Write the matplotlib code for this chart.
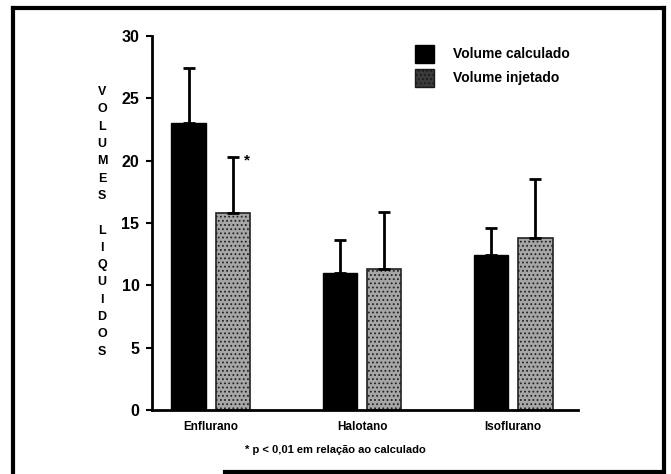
import numpy as np
import matplotlib.pyplot as plt
from matplotlib.lines import Line2D
from matplotlib.patches import Patch

categorias = ['Enflurano', 'Halotano', 'Isoflurano']
calculado = [23.0, 11.0, 12.4]
calculado_dp = [4.4, 2.6, 2.2]
injetado = [15.8, 11.3, 13.8]
injetado_dp = [4.5, 4.6, 4.7]

plt.rcParams['font.family'] = ['Liberation Sans', 'DejaVu Sans']
plt.rcParams['font.weight'] = 'bold'
plt.rcParams['hatch.linewidth'] = 0.8

fig = plt.figure(figsize=(6.71, 4.74), dpi=100)
ax = fig.add_axes([0.2265, 0.135, 0.635, 0.789])

x = np.arange(len(categorias))
w = 0.23
d = 0.146

ax.bar(x - d, calculado, w, color='black', edgecolor='black')
ax.bar(x + d, injetado, w, color='#a6a6a6', edgecolor='#222222', hatch='....',
       linewidth=1.2)

# barras de erro só para cima
ax.errorbar(x - d, calculado, yerr=[np.zeros(3), calculado_dp], fmt='none',
            ecolor='black', elinewidth=2, capsize=4.5, capthick=2)
ax.errorbar(x + d, injetado, yerr=[np.zeros(3), injetado_dp], fmt='none',
            ecolor='black', elinewidth=2, capsize=4.5, capthick=2)

ax.text(0 + d + 0.09, injetado[0] + injetado_dp[0] - 0.3, '*', fontsize=11,
        fontweight='bold', ha='center', va='center')

ax.set_xlim(-0.39, 2.43)
ax.set_ylim(0, 30)
ax.set_yticks([0, 5, 10, 15, 20, 25, 30])
ax.set_xticks(x)
ax.set_xticklabels(categorias, fontsize=8.5, fontweight='bold')
ax.tick_params(axis='x', length=0, pad=8)
ax.tick_params(axis='y', labelsize=11.5, length=4, width=1.5, pad=5)
for lab in ax.get_yticklabels():
    lab.set_fontweight('bold')

ax.spines['top'].set_visible(False)
ax.spines['right'].set_visible(False)
ax.spines['left'].set_linewidth(2)
ax.spines['bottom'].set_linewidth(2)

rotulo = 'VOLUMES LIQUIDOS'
ax.text(-0.117, 0.503, '\n'.join(rotulo), transform=ax.transAxes, ha='center',
        va='center', fontsize=9, fontweight='bold', linespacing=1.59)

handles = [Patch(facecolor='black', edgecolor='black'),
           Patch(facecolor='#3a3a3a', edgecolor='#1a1a1a', hatch='....')]
ax.legend(handles, ['Volume calculado', 'Volume injetado'], loc='upper left',
          bbox_to_anchor=(0.588, 1.01), frameon=False, fontsize=10,
          handlelength=1.4, handleheight=1.6, handletextpad=1.3, labelspacing=0.45)

fig.text(0.5, 0.05, '* p < 0,01 em relação ao calculado', ha='center', va='center',
         fontsize=8, fontweight='bold')

# moldura da figura
for xs, ys in [([0.019, 0.019], [0.0, 0.983]), ([0.019, 0.989], [0.983, 0.983]),
               ([0.989, 0.989], [0.983, 0.0]), ([0.335, 0.985], [0.005, 0.005])]:
    fig.add_artist(Line2D(xs, ys, transform=fig.transFigure, color='black', lw=3))

fig.savefig('out.png', dpi=100)
